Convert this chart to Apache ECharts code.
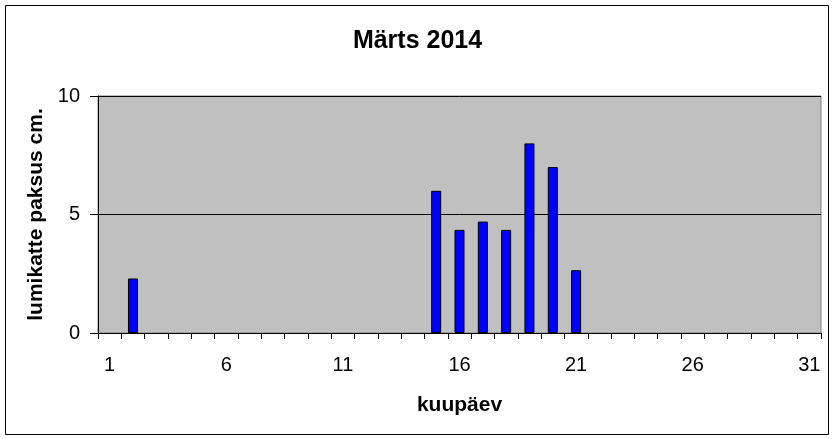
<!DOCTYPE html>
<html>
<head>
<meta charset="utf-8">
<script src="https://cdn.jsdelivr.net/npm/echarts@6/dist/echarts.min.js"></script>
<style>
  html, body { margin: 0; padding: 0; background: #fff; }
  #chart { width: 835px; height: 439px; }
</style>
</head>
<body>
<div id="chart"></div>
<script>
// snow depth, March 2014
var days = [];
for (var d = 1; d <= 31; d++) days.push(String(d));
var depth = [null, 2.3, null, null, null, null, null, null, null, null,
             null, null, null, null, 6.0, 4.35, 4.7, 4.35, 8.0, 7.0,
             2.65, null, null, null, null, null, null, null, null, null, null];
var yTicks = [0, 5, 10];

var font = 'Liberation Sans, Arial, sans-serif';
var chart = echarts.init(document.getElementById('chart'));
option = {
    animation: false,
    textStyle: { fontFamily: font },
    graphic: [{
        type: 'rect',
        shape: { x: 5.5, y: 5.5, width: 823, height: 429 },
        style: { fill: null, stroke: '#000', lineWidth: 1 },
        silent: true
    }],
    title: {
        text: 'Märts 2014',
        left: 'center',
        top: 24,
        textStyle: { fontFamily: font, fontSize: 25, fontWeight: 'bold', color: '#000' }
    },
    grid: {
        left: 98, right: 14, top: 96, bottom: 106,
        show: true,
        backgroundColor: '#C0C0C0',
        borderColor: '#808080',
        borderWidth: 1
    },
    xAxis: {
        type: 'category',
        data: days,
        boundaryGap: true,
        name: 'kuupäev',
        nameLocation: 'middle',
        nameGap: 62,
        nameTextStyle: { fontFamily: font, fontSize: 21, fontWeight: 'bold', color: '#000' },
        axisLine: { lineStyle: { color: '#000', width: 1 } },
        axisTick: { show: true, interval: 0, length: 6, lineStyle: { color: '#000' } },
        axisLabel: { interval: 4, margin: 22, fontSize: 20, color: '#000', fontFamily: font },
        splitLine: { show: false }
    },
    yAxis: {
        type: 'value',
        min: yTicks[0],
        max: yTicks[yTicks.length - 1],
        interval: yTicks[1] - yTicks[0],
        name: 'lumikatte paksus cm.',
        nameLocation: 'middle',
        nameGap: 50,
        nameTextStyle: { fontFamily: font, fontSize: 21, fontWeight: 'bold', color: '#000' },
        axisLine: { show: true, lineStyle: { color: '#000', width: 1 } },
        axisTick: { show: true, length: 8, lineStyle: { color: '#000' } },
        axisLabel: { margin: 18, fontSize: 20, color: '#000', fontFamily: font },
        splitLine: { show: true, lineStyle: { color: '#000', width: 1 } }
    },
    series: [
        {
            name: 'lumikatte paksus',
            type: 'bar',
            data: depth,
            barWidth: 10,
            itemStyle: { color: '#0000FF', borderColor: '#000', borderWidth: 1 }
        }
    ]
};
chart.setOption(option);
</script>
</body>
</html>
